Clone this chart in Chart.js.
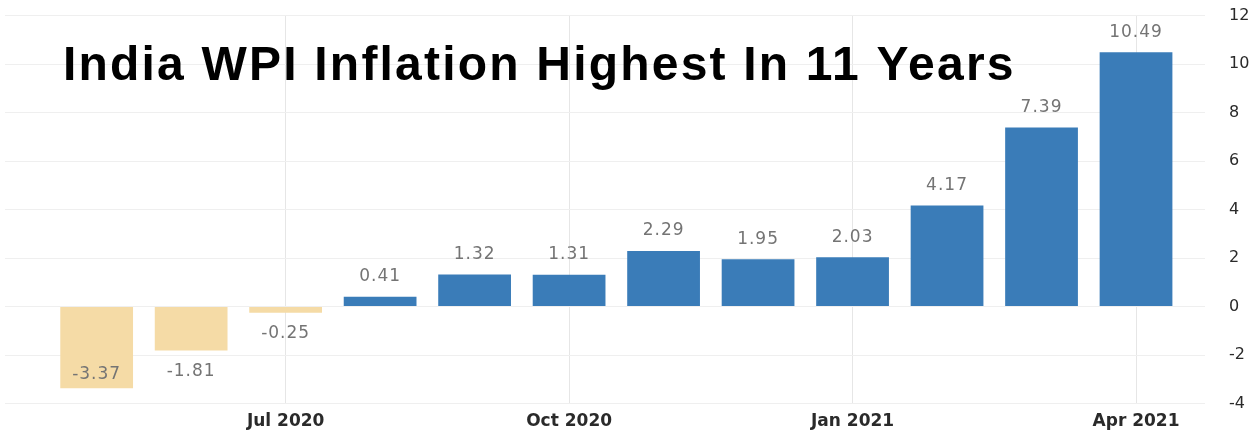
<!DOCTYPE html>
<html>
<head>
<meta charset="utf-8">
<script src="https://cdn.jsdelivr.net/npm/chart.js@4"></script>
<style>
  html, body { margin: 0; padding: 0; background: #fff; }
  #frame { position: relative; width: 1255px; height: 432px; overflow: hidden; }
  #wrap { position: absolute; left: 0; top: -18px; width: 1255px; height: 458px; }
</style>
</head>
<body>
<div id="frame"><div id="wrap"><canvas id="wpiChart"></canvas></div></div>
<script>
// monthly WPI inflation, May 2020 .. Apr 2021
var months = ['May 2020', 'Jun 2020', 'Jul 2020', 'Aug 2020', 'Sep 2020', 'Oct 2020',
              'Nov 2020', 'Dec 2020', 'Jan 2021', 'Feb 2021', 'Mar 2021', 'Apr 2021'];
var values = [-3.37, -1.81, -0.25, 0.41, 1.32, 1.31, 2.29, 1.95, 2.03, 4.17, 7.39, 10.49];
var xTickIndex = [2, 5, 8, 11];            // Jul 2020, Oct 2020, Jan 2021, Apr 2021
var yTicks = [-4, -2, 0, 2, 4, 6, 8, 10, 12];
var titleText = 'India WPI Inflation Highest In 11 Years';

var points = values.map(function (v, i) { return { x: i, y: v }; });

// value labels above / below each bar
var valueLabels = {
    id: 'valueLabels',
    afterDatasetsDraw: function (chart) {
        var ctx = chart.ctx;
        var area = chart.chartArea;
        var meta = chart.getDatasetMeta(0);
        ctx.save();
        ctx.font = '17px "DejaVu Sans", sans-serif';
        ctx.letterSpacing = '1px';
        ctx.fillStyle = '#747474';
        ctx.textAlign = 'center';
        ctx.textBaseline = 'middle';
        meta.data.forEach(function (bar, i) {
            var v = values[i];
            var y;
            if (v >= 0) {
                y = bar.y - 20;
            } else {
                y = bar.y + 21;
                if (y > area.bottom - 14) y = bar.y - 14;
            }
            ctx.fillText(v.toFixed(2), bar.x, y);
        });
        ctx.restore();
    }
};

// big headline drawn over the plot (canvas sits 18px above the page top)
var headline = {
    id: 'headline',
    afterDraw: function (chart) {
        var ctx = chart.ctx;
        ctx.save();
        ctx.font = 'bold 48px "Liberation Sans", Arial, sans-serif';
        ctx.fillStyle = '#000';
        ctx.textBaseline = 'alphabetic';
        ctx.textAlign = 'left';
        ctx.letterSpacing = '2.2px';
        ctx.fillText(titleText, 63, 98);
        ctx.restore();
    }
};

var ctx = document.getElementById('wpiChart').getContext('2d');
var wpiChart = new Chart(ctx, {
    type: 'bar',
    data: {
        datasets: [{
            data: points,
            backgroundColor: values.map(function (v) { return v < 0 ? '#f5dba6' : '#3a7cb8'; }),
            borderWidth: 0,
            barPercentage: 0.77,
            categoryPercentage: 1
        }]
    },
    options: {
        responsive: true,
        maintainAspectRatio: false,
        animation: false,
        layout: { padding: { left: 5, right: 0, top: 0, bottom: 0 } },
        plugins: {
            legend: { display: false },
            tooltip: { enabled: false }
        },
        scales: {
            x: {
                type: 'linear',
                min: -0.97,
                max: 11.73,
                offset: false,
                afterBuildTicks: function (axis) {
                    axis.ticks = xTickIndex.map(function (i) { return { value: i }; });
                },
                ticks: {
                    autoSkip: false,
                    maxRotation: 0,
                    color: '#2a2a2a',
                    padding: 8,
                    font: { family: '"DejaVu Sans", sans-serif', size: 17, weight: 'bold' },
                    callback: function (value) { return months[value]; }
                },
                grid: { color: '#e6e6e6', drawTicks: false, offset: false },
                border: { display: false }
            },
            y: {
                position: 'right',
                min: -4,
                max: 12,
                afterBuildTicks: function (axis) {
                    axis.ticks = yTicks.map(function (v) { return { value: v }; });
                },
                afterFit: function (axis) {
                    axis.width = 50;
                },
                ticks: {
                    color: '#2a2a2a',
                    padding: 24,
                    font: { family: '"DejaVu Sans", sans-serif', size: 16 }
                },
                grid: { color: '#efefef', drawTicks: false },
                border: { display: false }
            }
        }
    },
    plugins: [valueLabels, headline]
});
</script>
</body>
</html>
